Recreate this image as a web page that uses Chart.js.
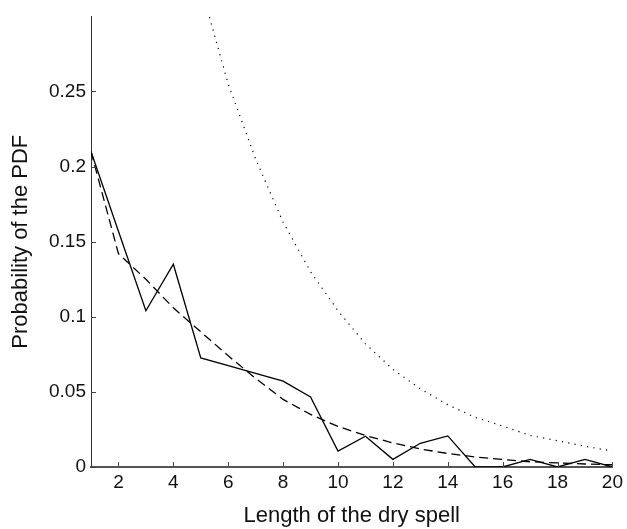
<!DOCTYPE html>
<html><head><meta charset="utf-8">
<script src="https://cdn.jsdelivr.net/npm/chart.js@4/dist/chart.umd.min.js"></script>
<style>html,body{margin:0;padding:0;background:#fff}#wrap{width:627px;height:529px}</style>
</head><body><div id="wrap"><canvas id="c" width="627" height="529"></canvas></div>
<script>
const spellLength = [1,2,3,4,5,6,7,8,9,10,11,12,13,14,15,16,17,18,19,20];
const observedPdf = [0.21,0.157,0.104,0.135,0.0726,0.0675,0.0623,0.0572,0.0466,0.0106,0.0205,0.0051,0.0158,0.0207,0,0,0.0051,0,0.005,0];
const fittedPdf = [0.21,0.142,0.125,0.106,0.090,0.074,0.059,0.045,0.035,0.027,0.021,0.016,0.012,0.009,0.0067,0.005,0.0035,0.0027,0.002,0.0015];
const dottedPdf = [null,null,null,null,0.32,0.255,0.205,0.163,0.130,0.104,0.082,0.065,0.052,0.0415,0.033,0.0273,0.021,0.0175,0.0138,0.0106];
const xTickValues = [2,4,6,8,10,12,14,16,18,20];
const yTickValues = [0,0.05,0.1,0.15,0.2,0.25];
const yTickLabels = ['0','0.05','0.1','0.15','0.2','0.25'];

const FONT = "'Liberation Sans', Arial, Helvetica, sans-serif";
const toPts = vals => spellLength.map((x,i)=>({x:x, y:vals[i]}));

const inwardTicks = {
  id:'inwardTicks',
  afterDatasetsDraw(chart){
    const {ctx, chartArea:a, scales:{x,y}} = chart;
    ctx.save(); ctx.strokeStyle='#444'; ctx.lineWidth=1;
    ctx.beginPath();
    x.ticks.forEach(t=>{ const px=Math.round(x.getPixelForValue(t.value))+0.5; ctx.moveTo(px,a.bottom); ctx.lineTo(px,a.bottom-5); });
    y.ticks.forEach(t=>{ const py=Math.round(y.getPixelForValue(t.value))+0.5; ctx.moveTo(a.left,py); ctx.lineTo(a.left+5,py); });
    ctx.stroke(); ctx.restore();
  }
};

new Chart(document.getElementById('c'), {
  type:'line',
  data:{datasets:[
    {data:toPts(observedPdf), borderColor:'#000', borderWidth:1.3, pointRadius:0, tension:0, fill:false},
    {data:toPts(fittedPdf), borderColor:'#000', borderWidth:1.3, borderDash:[9,5], pointRadius:0, tension:0, fill:false},
    {data:toPts(dottedPdf), borderColor:'#000', borderWidth:1.2, borderDash:[1.2,5.2], pointRadius:0, tension:0, fill:false, spanGaps:false}
  ]},
  options:{
    responsive:false, animation:false, devicePixelRatio:1,
    layout:{padding:{left:0,right:10,top:12,bottom:0}},
    plugins:{legend:{display:false}, tooltip:{enabled:false}},
    scales:{
      x:{type:'linear', min:1, max:20,
        afterBuildTicks: s => { s.ticks = xTickValues.map(v=>({value:v})); },
        afterFit: s => { s.height = 62; },
        grid:{display:false, drawTicks:false, tickLength:0},
        border:{display:true, color:'#555', width:2},
        ticks:{padding:4, color:'#111', font:{family:FONT, size:19}, maxRotation:0, autoSkip:false, callback:v=>String(v)},
        title:{display:true, text:'Length of the dry spell', color:'#111', font:{family:FONT, size:22}, padding:{top:14, bottom:0}}
      },
      y:{type:'linear', min:0, max:0.3,
        afterBuildTicks: s => { s.ticks = yTickValues.map(v=>({value:v})); },
        afterFit: s => { s.width = 91; },
        grid:{display:false, drawTicks:false, tickLength:0},
        border:{display:true, color:'#333', width:1},
        ticks:{padding:5, color:'#111', font:{family:FONT, size:19}, autoSkip:false, callback:(v,i)=>yTickLabels[i]},
        title:{display:true, text:'Probability of the PDF', color:'#111', font:{family:FONT, size:22}, padding:{top:8, bottom:0}}
      }
    }
  },
  plugins:[inwardTicks]
});
</script></body></html>
